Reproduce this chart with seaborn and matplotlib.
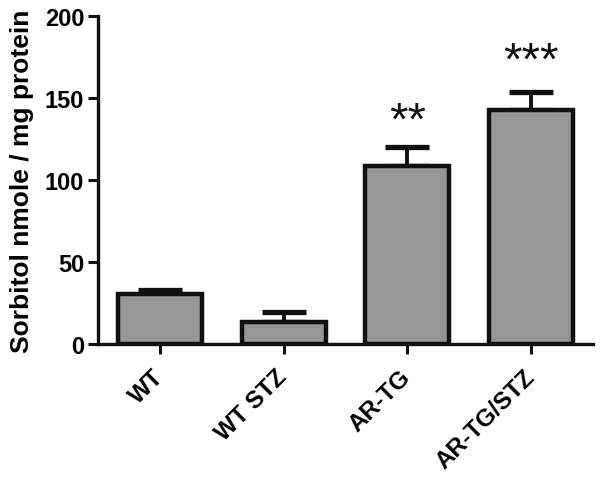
import matplotlib
matplotlib.use("Agg")
import matplotlib.pyplot as plt
import seaborn as sns
import pandas as pd
import numpy as np

categories = ["WT", "WT STZ", "AR-TG", "AR-TG/STZ"]
means = [30.5, 13.5, 108.5, 142.5]
sem = [2.5, 6.0, 11.5, 11.0]
stars = ["", "", "**", "***"]
star_y = [0, 0, 128, 165]

sns.set_theme(style="ticks")
plt.rcParams['font.family'] = ['Liberation Sans', 'DejaVu Sans']
plt.rcParams['font.weight'] = 'bold'
plt.rcParams['text.color'] = 'black'
plt.rcParams['axes.labelcolor'] = 'black'
plt.rcParams['xtick.color'] = 'black'
plt.rcParams['ytick.color'] = 'black'

fig = plt.figure(figsize=(6.02, 4.81), dpi=100)
ax = fig.add_axes([0.163, 0.283, 0.822, 0.682])

df = pd.DataFrame({"group": categories, "value": means})
sns.barplot(data=df, x="group", y="value", color="#969696", saturation=1,
            width=0.68, edgecolor="#111111", linewidth=3.2, ax=ax, zorder=2)

x = np.arange(len(categories))
ax.errorbar(x, means, yerr=[np.zeros(len(sem)), sem], fmt="none",
            ecolor="#111111", elinewidth=2.8, capsize=16, capthick=3.8, zorder=1)

for xi, st, sy in zip(x, stars, star_y):
    if st:
        ax.text(xi, sy, st, ha="center", va="baseline", fontsize=34,
                fontweight="normal", color="#111111")

ax.set_xlim(-0.5, 3.5)
ax.set_ylim(0, 200)
ax.set_yticks([0, 50, 100, 150, 200])
ax.set_xlabel("")
ax.set_ylabel("Sorbitol nmole / mg protein", fontsize=19, fontweight="bold", labelpad=8)
for sp in ["top", "right"]:
    ax.spines[sp].set_visible(False)
for sp in ["left", "bottom"]:
    ax.spines[sp].set_linewidth(2.4)
    ax.spines[sp].set_color("#111111")
ax.tick_params(axis="both", width=2.2, length=7, color="#111111", labelsize=17)
ax.tick_params(axis="y", pad=3)
ax.tick_params(axis="x", pad=14)
ax.set_xticks(x)
ax.set_xticklabels(categories, rotation=45, ha="right", va="center",
                   rotation_mode="anchor", fontsize=17.5, fontweight="bold")
for lab in ax.get_yticklabels():
    lab.set_fontweight("bold")

fig.savefig("out.png", dpi=100)
